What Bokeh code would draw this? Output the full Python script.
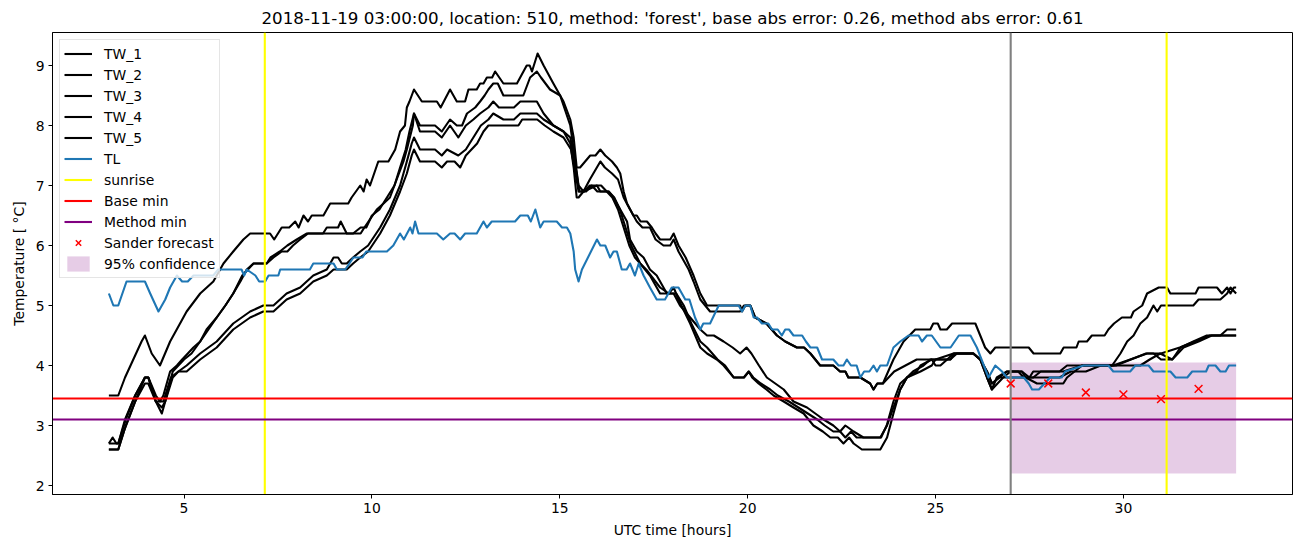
from bokeh.plotting import figure
from bokeh.models import Range1d, FixedTicker, Legend, LegendItem
from bokeh.embed import file_html
from bokeh.resources import INLINE

TITLE = "2018-11-19 03:00:00, location: 510, method: 'forest', base abs error: 0.26, method abs error: 0.61"

# (hour, temperature) pairs
TW_1 = [(3.0,3.5),(3.25,3.5),(3.43,3.8),(3.65,4.1),(3.87,4.4),(3.96,4.5),(4.14,4.2),(4.36,4.0),(4.63,4.4),(5.07,4.9),(5.43,5.2),(5.78,5.4),(6.05,5.7),(6.31,5.9),(6.58,6.1),(6.76,6.2),(7.29,6.2),(7.4,6.1),(7.6,6.3),(7.8,6.3),(7.96,6.4),(8.05,6.3),(8.18,6.5),(8.3,6.4),(8.4,6.5),(8.71,6.5),(8.89,6.7),(9.37,6.7),(9.46,6.8),(9.69,7.0),(9.78,6.9),(9.86,7.1),(9.95,7.0),(10.17,7.4),(10.44,7.4),(10.62,7.6),(10.75,7.9),(10.88,8.0),(10.93,8.3),(11.0,8.4),(11.12,8.6),(11.33,8.4),(11.73,8.4),(11.83,8.3),(12.08,8.6),(12.26,8.4),(12.48,8.4),(12.57,8.6),(12.79,8.6),(12.88,8.7),(12.97,8.7),(13.06,8.8),(13.2,8.8),(13.28,8.9),(13.5,8.7),(13.86,8.7),(14.12,9.0),(14.2,9.0),(14.26,8.9),(14.41,9.2),(14.57,9.0),(14.83,8.7),(15.1,8.4),(15.28,8.1),(15.37,7.8),(15.45,7.3),(15.54,7.3),(15.81,7.5),(15.95,7.5),(16.08,7.6),(16.21,7.5),(16.39,7.4),(16.52,7.3),(16.61,7.2),(16.7,6.9),(16.79,6.7),(16.96,6.5),(17.05,6.5),(17.15,6.4),(17.32,6.4),(17.45,6.3),(17.55,6.2),(17.67,6.1),(17.94,6.1),(18.03,6.2),(18.16,6.0),(18.35,5.8),(18.56,5.5),(18.74,5.2),(18.92,5.0),(19.8,5.0),(19.85,4.9),(19.94,5.0),(20.07,5.0),(20.2,4.8),(20.5,4.7),(20.78,4.5),(21.0,4.4),(21.31,4.3),(21.5,4.3),(21.67,4.2),(21.93,4.0),(22.28,4.0),(22.46,3.9),(22.6,3.9),(22.68,3.8),(23.0,3.8),(23.26,3.7),(23.35,3.6),(23.45,3.7),(23.6,3.7),(23.88,4.1),(24.15,4.4),(24.46,4.6),(24.86,4.6),(24.94,4.7),(25.06,4.7),(25.13,4.6),(25.3,4.6),(25.44,4.7),(26.06,4.7),(26.19,4.5),(26.32,4.3),(26.46,4.2),(26.59,4.3),(27.48,4.3),(27.61,4.2),(28.32,4.2),(28.41,4.3),(28.75,4.3),(28.81,4.4),(29.03,4.4),(29.16,4.5),(29.5,4.5),(29.6,4.6),(29.75,4.7),(29.96,4.8),(30.2,4.8),(30.27,4.9),(30.5,5.0),(30.63,5.2),(30.94,5.3),(31.16,5.3),(31.25,5.2),(31.92,5.2),(32.0,5.3),(32.49,5.3),(32.62,5.2),(32.76,5.3),(32.85,5.2),(32.94,5.3),(33.0,5.3)]

TW_2 = [(3.0,2.7),(3.1,2.8),(3.2,2.7),(3.25,2.7),(3.43,3.1),(3.7,3.5),(3.96,3.8),(4.05,3.8),(4.25,3.4),(4.36,3.4),(4.45,3.5),(4.63,3.9),(4.81,4.0),(4.95,4.1),(5.1,4.2),(5.25,4.3),(5.43,4.4),(5.6,4.6),(5.87,4.8),(6.1,5.0),(6.31,5.2),(6.5,5.4),(6.67,5.6),(6.85,5.7),(7.2,5.7),(7.38,5.8),(7.6,5.9),(7.75,5.9),(7.9,6.0),(8.09,6.1),(8.3,6.2),(8.7,6.2),(8.8,6.3),(9.1,6.3),(9.17,6.4),(9.33,6.2),(9.5,6.2),(9.7,6.2),(9.8,6.3),(9.91,6.4),(10.13,6.6),(10.31,6.7),(10.48,6.8),(10.66,7.1),(10.84,7.4),(10.93,7.6),(11.09,8.0),(11.12,8.2),(11.2,8.1),(11.28,8.0),(11.68,8.0),(11.86,7.9),(12.08,8.1),(12.26,8.0),(12.4,8.0),(12.53,8.2),(12.75,8.3),(12.88,8.4),(13.0,8.5),(13.1,8.6),(13.23,8.7),(13.35,8.7),(13.5,8.5),(14.03,8.5),(14.21,8.8),(14.39,8.9),(14.5,8.8),(14.74,8.6),(15.01,8.5),(15.28,8.0),(15.37,7.6),(15.5,7.0),(15.63,6.9),(15.8,7.1),(16.08,7.4),(16.2,7.3),(16.39,7.2),(16.55,7.1),(16.7,6.8),(16.87,6.6),(17.05,6.4),(17.2,6.3),(17.4,6.3),(17.55,6.1),(17.76,6.0),(17.94,6.0),(18.03,6.1),(18.16,5.9),(18.43,5.6),(18.56,5.4),(18.74,5.1),(19.0,4.9),(19.8,4.9),(19.9,5.0),(20.07,5.0),(20.2,4.8),(20.5,4.7),(20.78,4.5),(21.0,4.4),(21.31,4.3),(21.5,4.3),(21.67,4.2),(21.93,4.0),(22.28,4.0),(22.46,3.9),(22.6,3.9),(22.68,3.8),(23.0,3.8),(23.26,3.7),(23.35,3.6),(23.45,3.7),(23.6,3.7),(23.9,3.9),(24.2,4.0),(24.5,4.1),(24.9,4.1),(25.0,4.0),(25.13,4.0),(25.31,4.1),(25.48,4.2),(26.01,4.2),(26.19,4.1),(26.37,3.9),(26.5,3.7),(26.7,3.8),(26.9,3.9),(27.3,3.9),(27.4,3.8),(27.7,3.7),(28.4,3.7),(28.5,3.8),(28.7,3.9),(28.9,4.0),(29.7,4.0),(29.92,4.2),(30.1,4.4),(30.27,4.5),(30.45,4.7),(30.63,4.8),(30.8,5.0),(30.9,4.9),(31.0,5.0),(31.86,5.0),(32.0,5.1),(32.58,5.1),(32.76,5.2),(32.85,5.3),(33.0,5.2)]

TW_3 = [(3.0,2.7),(3.25,2.7),(3.45,3.1),(3.7,3.5),(3.96,3.8),(4.05,3.8),(4.25,3.4),(4.41,3.3),(4.5,3.4),(4.7,3.9),(4.85,4.0),(5.0,4.1),(5.2,4.2),(5.43,4.4),(5.65,4.6),(5.87,4.8),(6.1,5.0),(6.31,5.2),(6.55,5.5),(6.7,5.6),(6.85,5.7),(7.2,5.7),(7.3,5.8),(7.55,5.9),(7.75,6.0),(8.0,6.1),(8.27,6.2),(9.5,6.2),(9.7,6.3),(9.85,6.3),(10.0,6.5),(10.2,6.6),(10.4,6.8),(10.6,7.0),(10.75,7.3),(10.9,7.6),(11.0,7.9),(11.12,8.2),(11.28,7.9),(11.68,7.9),(11.86,7.8),(12.08,8.0),(12.3,7.8),(12.5,8.0),(12.7,8.1),(12.88,8.2),(13.1,8.3),(13.23,8.4),(13.38,8.3),(13.78,8.3),(13.95,8.4),(14.39,8.4),(14.57,8.2),(14.83,8.0),(15.1,7.9),(15.28,7.7),(15.37,7.3),(15.45,6.8),(15.5,6.8),(15.63,6.9),(15.99,7.0),(16.08,6.9),(16.3,6.9),(16.43,6.8),(16.61,6.6),(16.79,6.4),(16.87,6.1),(17.05,5.9),(17.23,5.8),(17.4,5.6),(17.58,5.5),(17.76,5.3),(17.85,5.2),(18.03,5.2),(18.2,5.0),(18.47,4.8),(18.74,4.6),(18.92,4.5),(19.1,4.5),(19.36,4.4),(19.6,4.3),(19.8,4.2),(19.97,4.3),(20.1,4.2),(20.3,4.0),(20.51,3.8),(20.96,3.6),(21.22,3.4),(21.58,3.3),(21.8,3.2),(22.02,3.1),(22.28,3.0),(22.46,2.9),(22.6,3.0),(22.82,2.9),(23.08,2.8),(23.53,2.8),(23.71,3.0),(23.88,3.3),(24.06,3.6),(24.24,3.8),(24.6,3.9),(24.9,4.0),(25.0,4.1),(25.48,4.2),(26.01,4.2),(26.19,4.1),(26.37,3.8),(26.5,3.6),(26.63,3.8),(26.9,3.9),(27.2,3.9),(27.35,3.8),(27.6,3.8),(27.8,3.9),(28.4,3.9),(28.9,4.0),(29.73,4.0),(30.18,4.1),(30.63,4.2),(30.8,4.2),(31.0,4.1),(31.3,4.1),(31.52,4.3),(31.86,4.4),(32.22,4.5),(32.58,4.5),(32.76,4.6),(33.0,4.6)]

TW_4 = [(3.0,2.6),(3.25,2.6),(3.45,3.0),(3.7,3.4),(3.96,3.7),(4.05,3.7),(4.25,3.4),(4.41,3.2),(4.5,3.4),(4.7,3.8),(4.85,3.9),(5.07,4.0),(5.43,4.2),(5.87,4.4),(6.31,4.7),(6.76,4.9),(7.11,5.0),(7.38,5.0),(7.73,5.2),(8.09,5.3),(8.44,5.5),(8.8,5.6),(8.98,5.8),(9.1,5.8),(9.2,5.7),(9.33,5.7),(9.5,5.8),(9.69,5.9),(9.9,6.0),(10.22,6.3),(10.48,6.6),(10.75,7.0),(10.93,7.4),(11.06,7.7),(11.12,7.8),(11.28,7.6),(11.68,7.6),(11.86,7.5),(12.0,7.6),(12.3,7.5),(12.5,7.6),(12.7,7.8),(12.9,8.0),(13.1,8.1),(13.23,8.2),(13.5,8.1),(13.78,8.1),(13.95,8.2),(14.39,8.2),(14.57,8.1),(14.83,8.0),(15.1,7.9),(15.28,7.8),(15.4,7.4),(15.52,6.9),(15.7,6.9),(15.85,7.0),(16.0,6.9),(16.3,6.9),(16.45,6.8),(16.6,6.6),(16.75,6.3),(16.9,6.0),(17.14,5.7),(17.4,5.5),(17.67,5.2),(17.9,5.2),(18.03,5.3),(18.16,5.1),(18.47,4.7),(18.74,4.3),(18.92,4.2),(19.18,4.1),(19.36,4.0),(19.63,3.8),(19.9,3.8),(20.03,3.9),(20.12,3.8),(20.29,3.7),(20.5,3.6),(20.69,3.5),(20.96,3.4),(21.22,3.3),(21.49,3.2),(21.75,3.0),(22.0,2.9),(22.2,2.8),(22.4,2.8),(22.55,2.7),(22.7,2.8),(22.82,2.7),(23.04,2.6),(23.53,2.6),(23.71,2.8),(23.88,3.2),(24.06,3.6),(24.24,3.8),(24.4,3.9),(24.68,4.0),(24.86,4.1),(25.39,4.1),(25.57,4.2),(26.0,4.2),(26.19,4.1),(26.37,3.9),(26.5,3.7),(26.7,3.8),(27.0,3.8),(28.3,3.8),(28.6,3.9),(29.0,3.9),(29.4,4.0),(30.45,4.0),(30.7,4.1),(30.98,4.2),(31.3,4.1),(31.6,4.3),(32.0,4.4),(32.35,4.5),(33.0,4.5)]

TW_5 = [(3.0,2.6),(3.25,2.6),(3.4,2.9),(3.7,3.4),(3.96,3.8),(4.05,3.8),(4.25,3.5),(4.36,3.4),(4.45,3.4),(4.65,3.8),(4.85,3.9),(5.07,3.9),(5.43,4.1),(5.87,4.3),(6.31,4.6),(6.76,4.8),(7.11,4.9),(7.38,4.9),(7.73,5.1),(8.09,5.2),(8.44,5.4),(8.8,5.5),(8.98,5.6),(9.33,5.6),(9.5,5.7),(9.69,5.8),(9.9,5.9),(10.22,6.2),(10.48,6.5),(10.75,6.9),(10.93,7.2),(11.06,7.5),(11.12,7.6),(11.28,7.4),(11.68,7.4),(11.86,7.3),(12.0,7.4),(12.2,7.4),(12.35,7.3),(12.5,7.5),(12.65,7.6),(12.8,7.7),(12.97,7.9),(13.1,8.0),(13.5,8.0),(13.9,8.0),(14.0,8.1),(14.4,8.1),(14.6,8.0),(14.83,7.9),(15.1,7.8),(15.3,7.6),(15.42,7.2),(15.5,6.9),(15.65,6.9),(15.8,7.0),(16.1,7.0),(16.25,6.9),(16.4,6.8),(16.55,6.6),(16.7,6.3),(16.85,6.0),(17.0,5.8),(17.14,5.7),(17.3,5.6),(17.67,5.3),(17.9,5.2),(18.1,5.2),(18.3,5.0),(18.5,4.7),(18.74,4.4),(18.92,4.3),(19.2,4.1),(19.4,4.0),(19.63,3.8),(19.9,3.8),(20.03,3.9),(20.15,3.8),(20.35,3.7),(20.6,3.6),(20.8,3.5),(21.1,3.4),(21.35,3.3),(21.6,3.2),(21.85,3.1),(22.05,3.0),(22.28,2.9),(22.46,2.9),(22.6,2.8),(22.75,2.9),(22.9,2.8),(23.08,2.8),(23.55,2.8),(23.7,3.0),(23.88,3.4),(24.06,3.7),(24.24,3.8),(24.5,3.9),(24.6,4.0),(24.9,4.1),(25.4,4.1),(25.5,4.2),(26.0,4.2),(26.19,4.1),(26.37,3.8),(26.5,3.6),(26.8,3.8),(27.0,3.9),(27.3,3.9),(27.5,3.8),(27.6,3.9),(28.3,3.9),(28.5,4.0),(29.8,4.0),(30.2,4.1),(30.6,4.2),(31.0,4.2),(31.5,4.3),(31.9,4.4),(32.3,4.5),(33.0,4.5)]

TL = [(3.0,5.2),(3.12,5.0),(3.25,5.0),(3.47,5.4),(3.96,5.4),(4.1,5.2),(4.32,4.9),(4.5,5.1),(4.63,5.3),(4.81,5.5),(4.95,5.4),(5.1,5.4),(5.25,5.5),(5.78,5.5),(5.91,5.6),(6.53,5.6),(6.6,5.5),(6.67,5.6),(6.9,5.5),(7.0,5.4),(7.16,5.4),(7.25,5.5),(7.51,5.5),(7.56,5.6),(8.35,5.6),(8.44,5.7),(8.98,5.7),(9.07,5.6),(9.29,5.6),(9.4,5.7),(9.51,5.8),(9.75,5.8),(9.85,5.9),(10.4,5.9),(10.57,6.0),(10.75,6.2),(10.85,6.1),(11.02,6.3),(11.08,6.2),(11.15,6.4),(11.24,6.2),(11.73,6.2),(11.9,6.1),(12.08,6.2),(12.2,6.2),(12.35,6.1),(12.48,6.2),(12.79,6.2),(12.97,6.4),(13.06,6.3),(13.19,6.4),(13.81,6.4),(13.95,6.5),(14.15,6.5),(14.23,6.4),(14.35,6.6),(14.48,6.3),(14.57,6.4),(14.92,6.4),(15.06,6.3),(15.19,6.3),(15.28,6.2),(15.37,5.9),(15.41,5.6),(15.5,5.4),(15.59,5.6),(15.99,6.1),(16.08,6.0),(16.21,6.0),(16.34,5.8),(16.43,5.9),(16.52,5.9),(16.65,5.6),(16.78,5.6),(16.87,5.7),(17.0,5.5),(17.1,5.7),(17.23,5.5),(17.4,5.3),(17.58,5.1),(17.8,5.1),(17.98,5.3),(18.16,5.3),(18.34,5.1),(18.45,5.1),(18.6,4.8),(18.74,4.6),(18.82,4.7),(19.0,4.7),(19.23,5.0),(19.76,5.0),(19.85,4.9),(19.94,5.0),(20.07,5.0),(20.16,4.8),(20.25,4.8),(20.38,4.7),(20.55,4.7),(20.65,4.6),(20.8,4.6),(20.91,4.5),(21.0,4.6),(21.1,4.6),(21.22,4.5),(21.45,4.5),(21.55,4.4),(21.67,4.3),(21.85,4.3),(21.98,4.1),(22.28,4.1),(22.42,4.0),(22.55,4.0),(22.64,4.1),(22.75,4.0),(22.9,4.0),(23.0,3.8),(23.1,3.9),(23.24,3.9),(23.35,4.0),(23.44,3.9),(23.53,4.0),(23.71,4.0),(23.88,4.3),(24.06,4.4),(24.28,4.5),(24.55,4.5),(24.64,4.4),(24.77,4.5),(24.9,4.5),(25.13,4.3),(25.4,4.3),(25.62,4.5),(25.93,4.5),(26.1,4.3),(26.41,3.8),(26.59,4.0),(26.77,3.9),(26.9,3.8),(27.35,3.8),(27.48,3.7),(27.57,3.6),(27.75,3.6),(27.9,3.7),(28.05,3.8),(28.36,3.8),(28.45,3.9),(28.94,4.0),(29.6,4.0),(29.73,3.9),(30.18,3.9),(30.32,4.0),(30.67,4.0),(30.8,3.9),(31.25,3.9),(31.39,3.8),(31.7,3.8),(31.83,3.9),(32.2,3.9),(32.27,4.0),(32.45,4.0),(32.58,3.9),(32.72,3.9),(32.81,4.0),(33.0,4.0)]

SUNRISE_HOURS = [7.15, 31.15]
FORECAST_START = 27.0
BASE_MIN = 3.45
METHOD_MIN = 3.1
FORECAST_HOURS = [27, 28, 29, 30, 31, 32]
FORECAST_TEMPS = [3.70, 3.70, 3.55, 3.52, 3.44, 3.61]
CONF_HOURS = [27, 33]
CONF_LOW = [2.2, 2.2]
CONF_HIGH = [4.05, 4.05]

X_RANGE = (1.5, 34.5)
Y_RANGE = (1.85, 9.55)
X_TICKS = [5, 10, 15, 20, 25, 30]
Y_TICKS = [2, 3, 4, 5, 6, 7, 8, 9]

FONT = "DejaVu Sans"

p = figure(width=1302, height=547, x_range=Range1d(*X_RANGE), y_range=Range1d(*Y_RANGE),
           output_backend="svg", toolbar_location=None, title=TITLE)
p.min_border_left = 52
p.min_border_right = 10
p.min_border_top = 32
p.min_border_bottom = 53

p.title.text_font = FONT
p.title.text_font_size = "16.7px"
p.title.text_font_style = "normal"
p.title.text_color = "black"
p.title.align = "center"

conf = p.varea(x=CONF_HOURS, y1=CONF_LOW, y2=CONF_HIGH, fill_color="purple", fill_alpha=0.2)

tw_renderers = []
for series in [TW_1, TW_2, TW_3, TW_4, TW_5]:
    hs = [a for a, b in series]
    ts = [b for a, b in series]
    tw_renderers.append(p.line(hs, ts, line_color="black", line_width=2.1, line_join="round"))

tl = p.line([a for a, b in TL], [b for a, b in TL], line_color="#1f77b4", line_width=2.1, line_join="round")

sun = None
for s in SUNRISE_HOURS:
    r = p.line([s, s], list(Y_RANGE), line_color="yellow", line_width=2.1)
    if sun is None:
        sun = r
base = p.line(list(X_RANGE), [BASE_MIN, BASE_MIN], line_color="red", line_width=2.1)
meth = p.line(list(X_RANGE), [METHOD_MIN, METHOD_MIN], line_color="purple", line_width=2.1)
p.line([FORECAST_START, FORECAST_START], list(Y_RANGE), line_color="gray", line_width=2.1)
fc = p.scatter(FORECAST_HOURS, FORECAST_TEMPS, marker="x", size=11, line_color="red", line_width=1.5)

items = [LegendItem(label=f"TW_{i+1}", renderers=[r]) for i, r in enumerate(tw_renderers)]
items += [LegendItem(label="TL", renderers=[tl]),
          LegendItem(label="sunrise", renderers=[sun]),
          LegendItem(label="Base min", renderers=[base]),
          LegendItem(label="Method min", renderers=[meth]),
          LegendItem(label="Sander forecast", renderers=[fc]),
          LegendItem(label="95% confidence", renderers=[conf])]
legend = Legend(items=items, location="top_left")
legend.label_text_font = FONT
legend.label_text_font_size = "13.9px"
legend.label_text_color = "black"
legend.glyph_width = 28
legend.glyph_height = 19
legend.label_height = 19
legend.spacing = 2
legend.padding = 4
legend.margin = 7
legend.label_standoff = 12
legend.border_line_color = "#cccccc"
legend.border_line_width = 1
legend.background_fill_alpha = 0.8
p.add_layout(legend)

p.xgrid.visible = False
p.ygrid.visible = False
p.outline_line_color = "black"
p.outline_line_width = 1
p.outline_line_alpha = 1

p.xaxis.ticker = FixedTicker(ticks=X_TICKS)
p.yaxis.ticker = FixedTicker(ticks=Y_TICKS)
p.xaxis.axis_label = "UTC time [hours]"
p.yaxis.axis_label = "Temperature [ °C]"
for ax in (p.xaxis[0], p.yaxis[0]):
    ax.axis_line_color = "black"
    ax.major_tick_line_color = "black"
    ax.major_tick_in = 0
    ax.major_tick_out = 4
    ax.minor_tick_in = 0
    ax.minor_tick_out = 0
    ax.major_label_text_font = FONT
    ax.major_label_text_font_size = "13.9px"
    ax.major_label_text_color = "black"
    ax.axis_label_text_font = FONT
    ax.axis_label_text_font_size = "13.9px"
    ax.axis_label_text_font_style = "normal"
    ax.axis_label_text_color = "black"
    ax.axis_label_standoff = 6
    ax.major_label_standoff = 4

open("out.html", "w").write(file_html(p, INLINE))
